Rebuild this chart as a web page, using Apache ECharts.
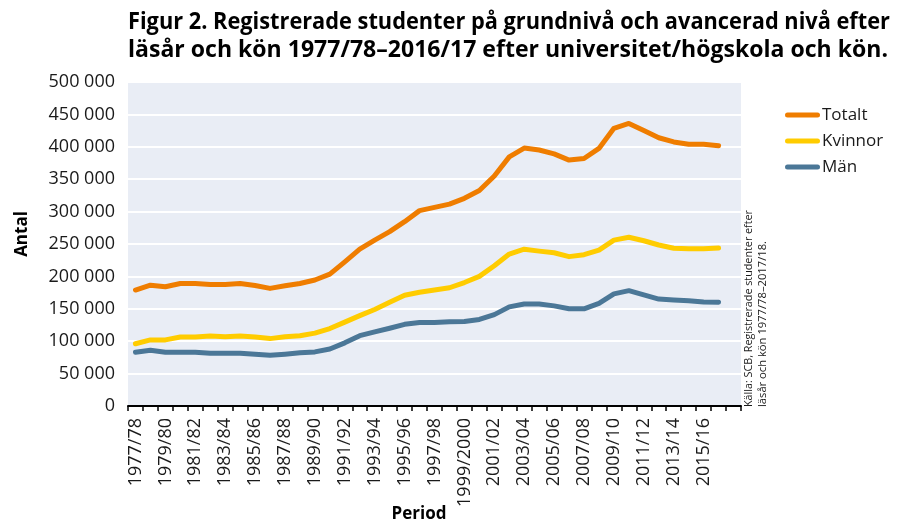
<!DOCTYPE html>
<html>
<head>
<meta charset="utf-8">
<script src="https://cdn.jsdelivr.net/npm/echarts@6/dist/echarts.min.js"></script>
<style>
html,body{margin:0;padding:0;background:#fff;}
#chart{width:915px;height:523px;}
</style>
</head>
<body>
<div id="chart"></div>
<script>
const TITLE_LINE1 = 'Figur 2. Registrerade studenter på grundnivå och avancerad nivå efter';
const TITLE_LINE2 = 'läsår och kön 1977/78–2016/17 efter universitet/högskola och kön.';
const SOURCE_LINE1 = 'Källa: SCB, Registrerade studenter efter';
const SOURCE_LINE2 = 'läsår och kön 1977/78–2017/18.';
const Y_NAME = 'Antal';
const X_NAME = 'Period';

const CATEGORIES = ['1977/78','1978/79','1979/80','1980/81','1981/82','1982/83','1983/84','1984/85','1985/86','1986/87',
  '1987/88','1988/89','1989/90','1990/91','1991/92','1992/93','1993/94','1994/95','1995/96','1996/97',
  '1997/98','1998/99','1999/2000','2000/01','2001/02','2002/03','2003/04','2004/05','2005/06','2006/07',
  '2007/08','2008/09','2009/10','2010/11','2011/12','2012/13','2013/14','2014/15','2015/16','2016/17',''];

const SERIES_NAMES = ['Totalt', 'Kvinnor', 'Män'];

const TOTALT = [179000,186500,184000,189000,189000,187500,187500,189000,186000,181500,
  185500,189000,194500,203500,222500,242000,256000,269000,284500,301500,
  306500,311500,320500,332500,355000,384500,398000,395000,389000,379500,
  382000,397500,428500,436000,425000,414000,407500,404000,404000,401500];

const KVINNOR = [96000,102000,102000,106500,106500,108000,107000,108000,106500,104000,
  107000,108500,112500,119500,129500,139500,149000,160000,171000,175500,
  179000,182500,190500,200000,216500,234500,242000,239000,236500,230500,
  233500,240500,256000,260500,255000,248500,243500,242500,242500,244000];

const MAN = [83000,86000,83000,83000,83000,81500,81500,81500,80000,78500,
  80000,82000,83500,88000,97500,108500,114500,120000,126000,129000,
  129000,130000,130500,133500,141000,153000,157500,157500,154500,150000,
  150000,158500,173000,178000,171500,165000,163500,162500,160500,160000];

const Y_MIN = 0, Y_MAX = 500000, Y_STEP = 50000;

const COLORS = ['#ef7d00', '#ffcc00', '#4b7797'];
const FONT = "'Open Sans', 'Noto Sans', sans-serif";
const TEXT_COLOR = '#1a1a1a';

function measure(text, font) {
  const c = document.createElement('canvas').getContext('2d');
  c.font = font;
  return c.measureText(text).width;
}

const titleFont = 'bold 24px ' + FONT;
const t1scale = 762 / measure(TITLE_LINE1, titleFont);
const t2scale = 760 / measure(TITLE_LINE2, titleFont);
const srcFont = '11px ' + FONT;
const s1scale = 197 / measure(SOURCE_LINE1, srcFont);
const s2scale = 166 / measure(SOURCE_LINE2, srcFont);

function fmt(v) {
  return String(v).replace(/\B(?=(\d{3})+(?!\d))/g, ' ');
}

const chart = echarts.init(document.getElementById('chart'), null, {renderer: 'canvas'});

const seriesData = [TOTALT, KVINNOR, MAN];

const option = {
  animation: false,
  color: COLORS,
  grid: {
    left: 128, right: 174, top: 82, bottom: 117,
    show: true, backgroundColor: '#e9edf5', borderWidth: 0
  },
  legend: {
    orient: 'vertical',
    left: 780, top: 100,
    itemWidth: 35, itemHeight: 5,
    itemGap: 6,
    icon: 'path://M2.5,0 L32.5,0 A2.5,2.5 0 0 1 32.5,5 L2.5,5 A2.5,2.5 0 0 1 2.5,0 Z',
    textStyle: {fontFamily: FONT, fontSize: 17, color: TEXT_COLOR, lineHeight: 20, padding: [0,0,0,-3]},
    data: SERIES_NAMES
  },
  xAxis: {
    type: 'category',
    data: CATEGORIES,
    boundaryGap: true,
    axisLine: {show: true, lineStyle: {color: '#000', width: 2}},
    axisTick: {show: true, interval: 0, length: 5, lineStyle: {color: '#000', width: 1.5}},
    axisLabel: {interval: 1, rotate: 90, fontFamily: FONT, fontSize: 18, color: TEXT_COLOR, margin: 12},
    splitLine: {show: false}
  },
  yAxis: {
    type: 'value',
    min: Y_MIN, max: Y_MAX, interval: Y_STEP,
    axisLine: {show: false},
    axisTick: {show: false},
    axisLabel: {fontFamily: FONT, fontSize: 18, color: TEXT_COLOR, margin: 13, formatter: fmt},
    splitLine: {show: true, lineStyle: {color: '#ffffff', width: 2}}
  },
  series: SERIES_NAMES.map((name, i) => ({
    name: name,
    type: 'line',
    data: seriesData[i],
    symbol: 'none',
    smooth: false,
    lineStyle: {width: 5, cap: 'round', join: 'round', color: COLORS[i]},
    itemStyle: {color: COLORS[i]},
    z: 3 - i
  })),
  graphic: [
    {type: 'text', x: 128, y: 22, scaleX: t1scale, style: {text: TITLE_LINE1, font: titleFont, fill: '#000', textAlign: 'left', textVerticalAlign: 'middle'}},
    {type: 'text', x: 128, y: 50, scaleX: t2scale, style: {text: TITLE_LINE2, font: titleFont, fill: '#000', textAlign: 'left', textVerticalAlign: 'middle'}},
    {type: 'text', x: 749, y: 407, rotation: Math.PI / 2, scaleX: s1scale, style: {text: SOURCE_LINE1, font: srcFont, fill: TEXT_COLOR, textAlign: 'left', textVerticalAlign: 'middle'}},
    {type: 'text', x: 763, y: 407, rotation: Math.PI / 2, scaleX: s2scale, style: {text: SOURCE_LINE2, font: srcFont, fill: TEXT_COLOR, textAlign: 'left', textVerticalAlign: 'middle'}},
    {type: 'text', x: 22, y: 234, rotation: Math.PI / 2, style: {text: Y_NAME, font: 'bold 17px ' + FONT, fill: '#000', textAlign: 'center', textVerticalAlign: 'middle'}},
    {type: 'text', x: 419, y: 514, style: {text: X_NAME, font: 'bold 17px ' + FONT, fill: '#000', textAlign: 'center', textVerticalAlign: 'middle'}}
  ]
};

chart.setOption(option);
</script>
</body>
</html>
